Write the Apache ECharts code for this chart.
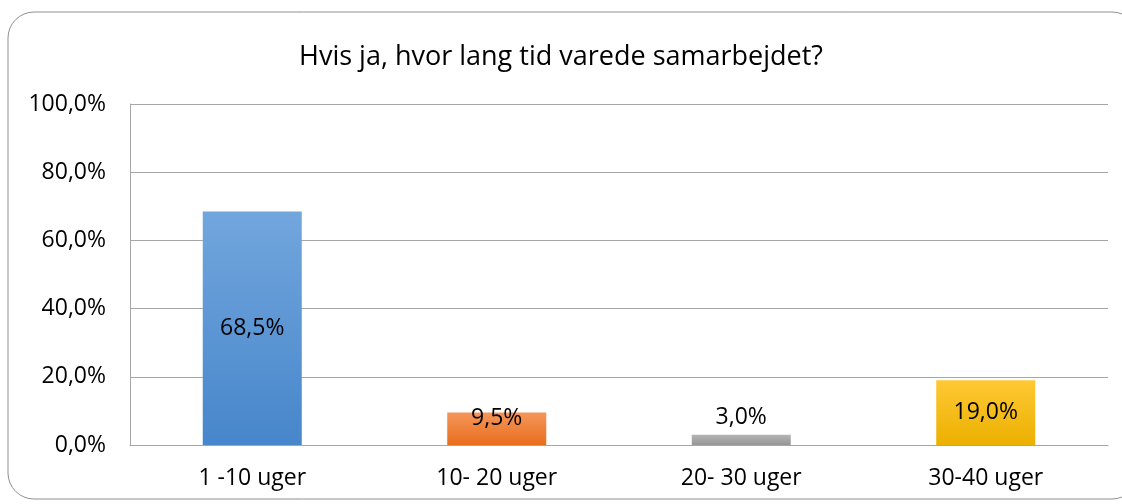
<!DOCTYPE html>
<html>
<head>
<meta charset="utf-8">
<script src="https://cdn.jsdelivr.net/npm/echarts@6/dist/echarts.min.js"></script>
<style>
  html, body { margin: 0; padding: 0; background: #fff; }
  #chart { width: 1122px; height: 504px; }
</style>
</head>
<body>
<div id="chart"></div>
<script>
var titleText = 'Hvis ja, hvor lang tid varede samarbejdet?';
var categories = ['1 -10 uger', '10- 20 uger', '20- 30 uger', '30-40 uger'];
var shares = [68.5, 9.5, 3.0, 19.0];
var yTicks = [0, 20, 40, 60, 80, 100];

var chart = echarts.init(document.getElementById('chart'));

function grad(top, bottom) {
    return new echarts.graphic.LinearGradient(0, 0, 0, 1, [
        { offset: 0, color: top },
        { offset: 1, color: bottom }
    ]);
}

var fills = [
    grad('#72a6dd', '#4786cb'),
    grad('#f5955a', '#e86e1c'),
    grad('#b4b4b4', '#979797'),
    grad('#ffc935', '#ebb000')
];

// label placement per bar, like the excel original
var labelPos = [
    { position: 'inside' },
    { position: 'inside', offset: [0, -10] },
    { position: 'top', distance: 6 },
    { position: 'inside' }
];

function fmt(v) {
    return v.toFixed(1).replace('.', ',') + '%';
}

var font = '"Open Sans", Lato, sans-serif';

var barData = [];
for (var i = 0; i < shares.length; i++) {
    barData.push({
        value: shares[i],
        itemStyle: { color: fills[i] },
        label: labelPos[i]
    });
}

var option = {
    animation: false,
    textStyle: { fontFamily: font },
    title: {
        text: titleText,
        left: 'center',
        top: 39,
        textStyle: { fontFamily: font, fontSize: 27, fontWeight: 'normal', color: '#000' }
    },
    graphic: [{
        type: 'rect',
        shape: { x: 8, y: 12, width: 1130, height: 487, r: 26 },
        style: { fill: 'none', stroke: '#8f8f8f', lineWidth: 1 },
        silent: true
    }],
    grid: { left: 130, right: 14, top: 104, bottom: 59 },
    xAxis: {
        type: 'category',
        data: categories,
        axisLine: { lineStyle: { color: '#a6a6a6', width: 1 } },
        axisTick: { show: false },
        axisLabel: { fontFamily: font, fontSize: 23, color: '#000', margin: 22 }
    },
    yAxis: {
        type: 'value',
        min: 0,
        max: 100,
        interval: 20,
        axisLine: { show: true, lineStyle: { color: '#a6a6a6', width: 1 } },
        axisTick: { show: false },
        splitLine: { lineStyle: { color: '#a6a6a6', width: 1 } },
        axisLabel: {
            fontFamily: font, fontSize: 23, color: '#000', margin: 24,
            formatter: function (v) { return yTicks.indexOf(v) >= 0 ? fmt(v) : ''; }
        }
    },
    series: [{
        type: 'bar',
        data: barData,
        barWidth: '40.5%',
        label: {
            show: true,
            fontFamily: font,
            fontSize: 23,
            color: '#000',
            formatter: function (p) { return fmt(p.value); }
        }
    }]
};

chart.setOption(option);
</script>
</body>
</html>
